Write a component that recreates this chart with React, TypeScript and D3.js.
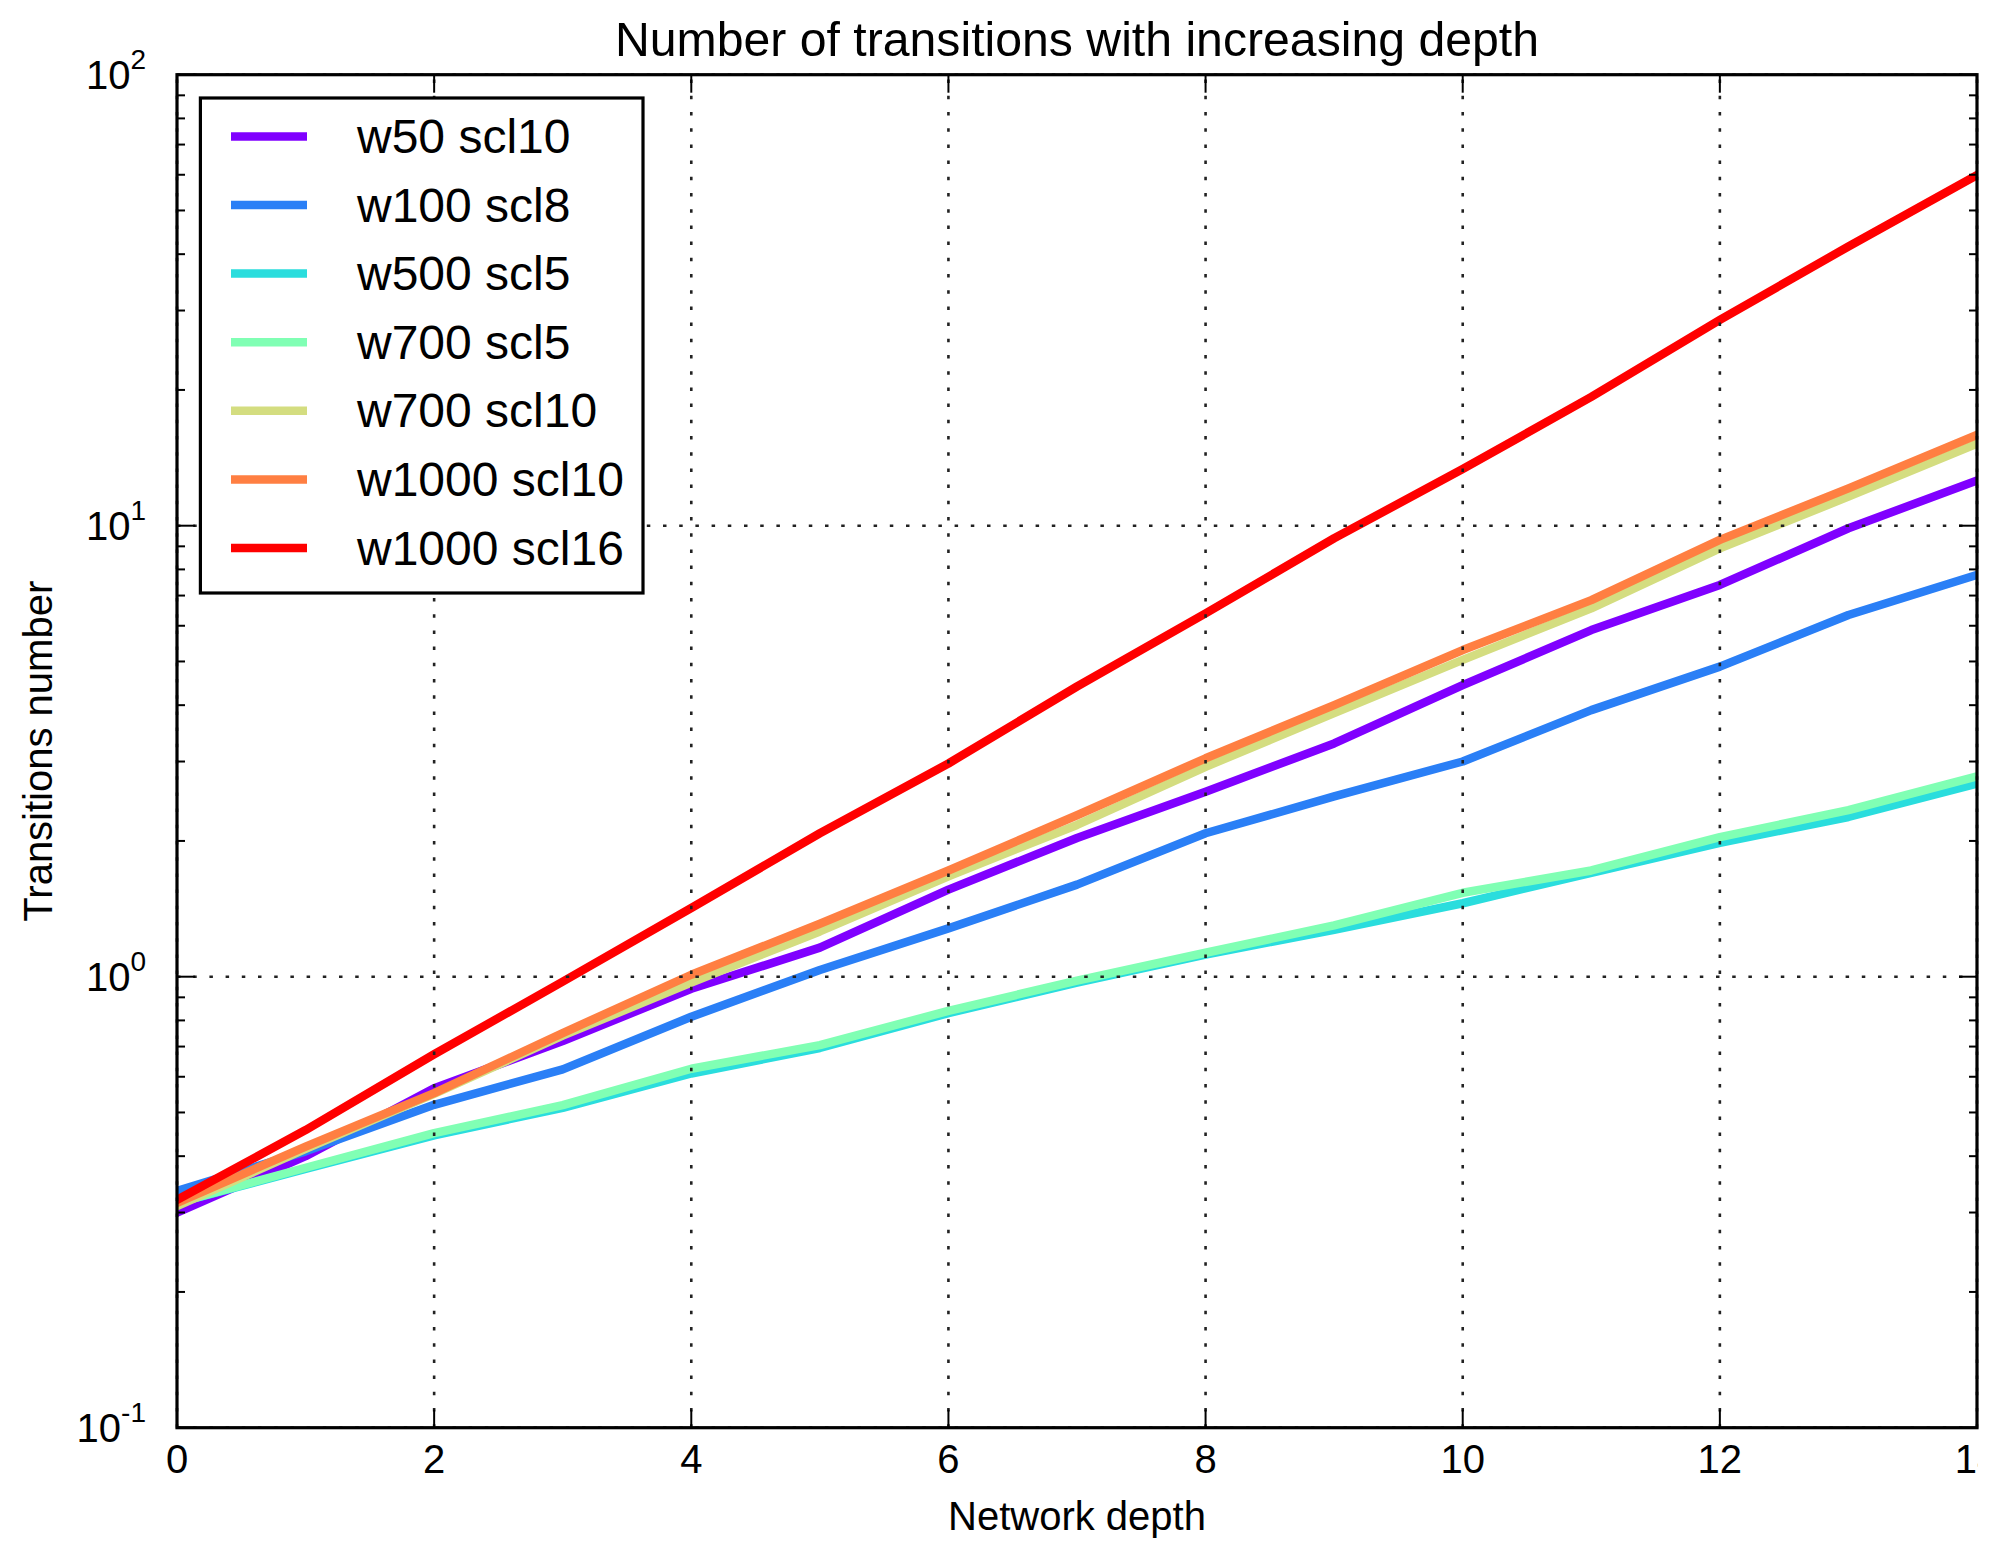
import React from "react";
import * as d3 from "d3";

// Network depth values on the x axis
const depths = [0, 1, 2, 3, 4, 5, 6, 7, 8, 9, 10, 11, 12, 13, 14];

const seriesNames = [
  "w50 scl10",
  "w100 scl8",
  "w500 scl5",
  "w700 scl5",
  "w700 scl10",
  "w1000 scl10",
  "w1000 scl16",
];

// rainbow colormap samples, one per series
const seriesColors = ["#8000ff", "#2a7ff6", "#2adddd", "#80ffb4", "#d4dd80", "#ff7f42", "#ff0000"];

const w50scl10 = [0.3, 0.4, 0.566, 0.72, 0.94, 1.16, 1.56, 2.03, 2.57, 3.29, 4.43, 5.87, 7.39, 9.87, 12.6];
const w100scl8 = [0.335, 0.41, 0.52, 0.623, 0.815, 1.035, 1.28, 1.6, 2.08, 2.51, 3.0, 3.9, 4.87, 6.34, 7.78];
const w500scl5 = [0.315, 0.375, 0.445, 0.512, 0.61, 0.695, 0.83, 0.97, 1.12, 1.27, 1.455, 1.7, 1.98, 2.26, 2.68];
const w700scl5 = [0.315, 0.377, 0.45, 0.519, 0.625, 0.705, 0.84, 0.98, 1.13, 1.3, 1.535, 1.72, 2.04, 2.34, 2.78];
const w700scl10 = [0.31, 0.415, 0.55, 0.74, 0.97, 1.26, 1.67, 2.17, 2.92, 3.84, 5.04, 6.56, 8.91, 11.6, 15.2];
const w1000scl10 = [0.315, 0.42, 0.552, 0.75, 1.01, 1.31, 1.72, 2.28, 3.05, 4.0, 5.3, 6.84, 9.3, 12.1, 15.9];
const w1000scl16 = [0.32, 0.457, 0.673, 0.975, 1.42, 2.08, 2.97, 4.4, 6.39, 9.38, 13.35, 19.3, 28.6, 41.6, 59.9];

const seriesValues = [w50scl10, w100scl8, w500scl5, w700scl5, w700scl10, w1000scl10, w1000scl16];

const xTickValues = [0, 2, 4, 6, 8, 10, 12, 14];
const yDecades = [-1, 0, 1, 2];

const titleText = "Number of transitions with increasing depth";
const xLabelText = "Network depth";
const yLabelText = "Transitions number";

const W = 1999;
const H = 1541;
const FONT = "'Liberation Sans', Arial, Helvetica, sans-serif";

export default function App() {
  const left = 177;
  const right = 1977;
  const top = 74.7;
  const bottom = 1427.7;

  const x = d3.scaleLinear().domain([0, 14]).range([left, right]);
  const y = d3.scaleLog().domain([0.1, 100]).range([bottom, top]);

  const line = d3
    .line<number>()
    .x((_, i) => x(depths[i]))
    .y((v) => y(v));

  const allYTicks = y.ticks();
  const isMajor = (v: number) => Math.abs(Math.log10(v) - Math.round(Math.log10(v))) < 1e-9;
  const minorY = allYTicks.filter((v) => !isMajor(v));
  const majorY = yDecades.map((d) => Math.pow(10, d));

  const majorLen = 18;
  const minorLen = 8;

  const legendX = 200.4;
  const legendY = 98;
  const legendW = 442.6;
  const legendH = 495;
  const rowY0 = 136.4;
  const rowStep = 68.6;

  return (
    <svg
      width={W}
      height={H}
      viewBox={`0 0 ${W} ${H}`}
      style={{ position: "absolute", left: 0, top: 0, background: "#fff" }}
      fontFamily={FONT}
    >
      <defs>
        <clipPath id="plotArea">
          <rect x={left} y={top} width={right - left} height={bottom - top} />
        </clipPath>
        <clipPath id="figEdge">
          <rect x={0} y={0} width={1977.5} height={H} />
        </clipPath>
      </defs>
      <rect x={0} y={0} width={W} height={H} fill="#fff" />

      {/* series lines */}
      <g clipPath="url(#plotArea)">
        {seriesValues.map((vals, i) => (
          <path
            key={seriesNames[i]}
            d={line(vals) || ""}
            fill="none"
            stroke={seriesColors[i]}
            strokeWidth={8.5}
            strokeLinejoin="round"
            strokeLinecap="square"
          />
        ))}
      </g>

      {/* dotted grid, drawn above the lines */}
      <g stroke="#222" strokeWidth={2.6} strokeDasharray="3.5 12.7" fill="none">
        {xTickValues.map((t) => (
          <line key={`gx${t}`} x1={x(t)} x2={x(t)} y1={bottom} y2={top} />
        ))}
        {majorY.map((v) => (
          <line key={`gy${v}`} x1={left} x2={right} y1={y(v)} y2={y(v)} />
        ))}
      </g>

      {/* ticks pointing inward on all four sides */}
      <g stroke="#000" strokeWidth={2}>
        {xTickValues.map((t) => (
          <g key={`tx${t}`}>
            <line x1={x(t)} x2={x(t)} y1={bottom} y2={bottom - majorLen} />
            <line x1={x(t)} x2={x(t)} y1={top} y2={top + majorLen} />
          </g>
        ))}
        {majorY.map((v) => (
          <g key={`ty${v}`}>
            <line x1={left} x2={left + majorLen} y1={y(v)} y2={y(v)} />
            <line x1={right} x2={right - majorLen} y1={y(v)} y2={y(v)} />
          </g>
        ))}
        {minorY.map((v) => (
          <g key={`tm${v}`}>
            <line x1={left} x2={left + minorLen} y1={y(v)} y2={y(v)} />
            <line x1={right} x2={right - minorLen} y1={y(v)} y2={y(v)} />
          </g>
        ))}
      </g>

      {/* axes frame */}
      <rect
        x={left}
        y={top}
        width={right - left}
        height={bottom - top}
        fill="none"
        stroke="#000"
        strokeWidth={3.2}
      />

      {/* x tick labels */}
      <g clipPath="url(#figEdge)" fontSize={40} textAnchor="middle" fill="#000">
        {xTickValues.map((t) => (
          <text key={`lx${t}`} x={x(t)} y={bottom + 45}>
            {t}
          </text>
        ))}
      </g>

      {/* y tick labels as powers of ten */}
      <g fontSize={40} textAnchor="end" fill="#000">
        {yDecades.map((d) => (
          <text key={`ly${d}`} x={146} y={y(Math.pow(10, d)) + 14}>
            <tspan>10</tspan>
            <tspan fontSize={28} dy={-20}>
              {d}
            </tspan>
          </text>
        ))}
      </g>

      {/* title and axis labels */}
      <text x={(left + right) / 2} y={56} fontSize={48.2} textAnchor="middle" fill="#000">
        {titleText}
      </text>
      <text x={(left + right) / 2} y={1530} fontSize={40} textAnchor="middle" fill="#000">
        {xLabelText}
      </text>
      <text
        transform={`translate(52, ${(top + bottom) / 2}) rotate(-90)`}
        fontSize={40}
        textAnchor="middle"
        fill="#000"
      >
        {yLabelText}
      </text>

      {/* legend */}
      <g>
        <rect x={legendX} y={legendY} width={legendW} height={legendH} fill="#fff" stroke="#000" strokeWidth={3.2} />
        {seriesNames.map((name, i) => {
          const ry = rowY0 + i * rowStep;
          return (
            <g key={`lg${name}`}>
              <line x1={231} x2={307} y1={ry} y2={ry} stroke={seriesColors[i]} strokeWidth={8.5} />
              <text x={357} y={ry + 16.5} fontSize={48} fill="#000">
                {name}
              </text>
            </g>
          );
        })}
      </g>
    </svg>
  );
}
